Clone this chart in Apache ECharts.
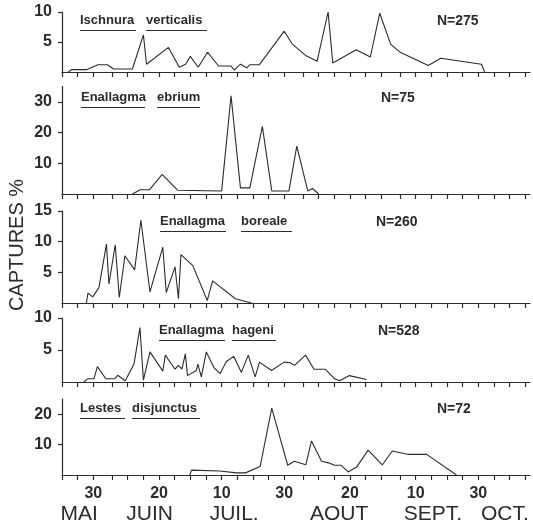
<!DOCTYPE html>
<html>
<head>
<meta charset="utf-8">
<script src="https://cdn.jsdelivr.net/npm/echarts@6/dist/echarts.min.js"></script>
<style>
    html, body { margin: 0; padding: 0; background: #fff; }
    #chart { width: 533px; height: 529px; }
</style>
</head>
<body>
<div id="chart"></div>
<script>
    // days are counted from 1 May (1 June = 32, 1 July = 62, 1 Aug = 93, 1 Sept = 124, 1 Oct = 154)
    const tickDays = [20, 25, 30, 36, 41, 46, 51, 56, 61, 66, 71, 76, 81, 86, 91, 97, 102, 107, 112, 117, 122,
        128, 133, 138, 143, 148, 153, 158, 163, 168]
    const dayLabelDays = [30, 51, 71, 91, 112, 133, 153]
    const dayLabels = ['30', '20', '10', '30', '20', '10', '30']
    const monthDays = [25.5, 48, 75, 108.5, 138.5, 161.5]
    const months = ['MAI', 'JUIN', 'JUIL.', 'AOUT', 'SEPT.', 'OCT.']

    const ischnuraDays = [22, 23, 28, 31.5, 34.5, 36.5, 42.5, 46, 47, 54, 57.5, 59.5, 61, 63.5, 66.5, 70, 74, 75, 77, 79, 80, 83,
        91, 93.5, 98, 101.5, 105, 106.5, 114, 118.5, 121.5, 125, 128, 137, 141, 154, 155]
    const ischnuraPct = [0, 0.4, 0.4, 1.2, 1.2, 0.5, 0.5, 6.2, 1.3, 4.1, 0.8, 1.3, 2.6, 0.8, 3.3, 1.0, 1.0, 0.3, 1.3, 0.7, 1.2, 1.2,
        6.8, 4.7, 2.7, 1.8, 10, 1.5, 3.7, 2.5, 9.8, 4.6, 3.3, 1.1, 2.3, 1.3, 0]

    const ebriumDays = [42.5, 45, 48, 52, 57, 71, 74, 77, 80, 84, 87, 92.5, 95, 98.5, 100, 102]
    const ebriumPct = [0, 1.4, 1.4, 6.4, 1.2, 1.0, 32, 2, 2, 22, 1, 1, 15.6, 1, 1.8, 0]

    const borealeDays = [27.8, 28.3, 29.8, 31.8, 34.2, 35, 37, 38.3, 40.1, 43.2, 45.2, 48.1, 52.2, 53.3, 56.1, 57.2, 58,
        61.8, 66.4, 68.1, 75.4, 80.5]
    const borealePct = [0, 1.6, 1.0, 2.5, 9.6, 3.1, 9.5, 0.9, 7.7, 5.4, 13.5, 1.8, 9.1, 1.7, 5.9, 0.7, 7.9,
        6.1, 0.4, 3.6, 0.7, 0]

    const hageniDays = [27, 28.2, 30.2, 31.3, 34, 36.7, 37.8, 40.2, 43, 44.9, 46, 48.1, 52.2, 53, 56.1, 57.2, 58.3, 59.4,
        60.1, 62.9, 63.4, 64.5, 66.1, 68.6, 70.5, 72.5, 74.9, 77.3, 79.5, 81.7, 83.1, 86.9, 91, 92.9, 94.3, 97.8, 100.5,
        104.1, 107.1, 108.7, 111.8, 117.3]
    const hageniPct = [0, 0.5, 0.5, 2.4, 0.5, 0.5, 1.05, 0.2, 2.8, 8.5, 0.3, 4.7, 1.7, 4.2, 2, 2.6, 2, 4.4,
        1, 1.8, 2.8, 0.8, 4.7, 2.2, 1.3, 3.2, 4, 1.5, 4.2, 0.8, 3.1, 1.8, 3.1, 3, 2.6, 4.2, 2,
        2, 0.5, 0.2, 1, 0.4]

    const lestesDays = [60.8, 61.4, 70.4, 75.8, 78.6, 83.3, 87, 92.1, 94.2, 97.9, 99.7, 102.9, 105.2, 107, 109.2, 111.4,
        114.1, 117.8, 122.3, 125.5, 130.4, 136.5, 146]
    const lestesPct = [0, 1.6, 1.3, 0.7, 0.7, 2.8, 22, 3.2, 4.5, 3.4, 11.2, 4.5, 4, 3.2, 3.2, 1,
        2.6, 8.2, 3.3, 7.9, 6.8, 6.8, 0]

    const panels = [
        { days: ischnuraDays, pct: ischnuraPct, max: 10, ticks: [5, 10], top: 12, height: 60,
            words: [['Ischnura', 80, 136], ['verticalis', 146, 207]], n: 'N=275', nx: 437, ty: 22 },
        { days: ebriumDays, pct: ebriumPct, max: 35, ticks: [10, 20, 30], top: 86.5, height: 107.5,
            words: [['Enallagma', 81, 145], ['ebrium', 157, 200]], n: 'N=75', nx: 381, ty: 99 },
        { days: borealeDays, pct: borealePct, max: 15, ticks: [5, 10, 15], top: 211, height: 92,
            words: [['Enallagma', 160, 226], ['boreale', 241, 292]], n: 'N=260', nx: 376, ty: 223 },
        { days: hageniDays, pct: hageniPct, max: 10, ticks: [5, 10], top: 318, height: 64,
            words: [['Enallagma', 159, 225], ['hageni', 232, 276]], n: 'N=528', nx: 378, ty: 332 },
        { days: lestesDays, pct: lestesPct, max: 25, ticks: [10, 20], top: 399, height: 76,
            words: [['Lestes', 80, 125], ['disjunctus', 132, 200]], n: 'N=72', nx: 437, ty: 410 }
    ]

    const ink = '#2b2b2b'
    const font = '"Liberation Sans", Arial, sans-serif'
    const xMin = 20
    const xMax = 169.5

    const grid = []
    const xAxis = []
    const yAxis = []
    const series = []
    const graphic = []

    panels.forEach((p, i) => {
        const last = i === panels.length - 1
        grid.push({ left: 62, right: 3, top: p.top, height: p.height })
        xAxis.push({
            type: 'value', gridIndex: i, position: 'bottom', min: xMin, max: xMax,
            axisLine: { show: true, lineStyle: { color: ink, width: 1.2 } },
            axisTick: { show: true, customValues: tickDays, length: 5, lineStyle: { color: ink, width: 1.2 } },
            axisLabel: {
                show: last, customValues: dayLabelDays, margin: 11,
                color: ink, fontSize: 16, fontWeight: 'bold', fontFamily: font,
                formatter: v => dayLabels[dayLabelDays.indexOf(v)]
            },
            splitLine: { show: false }
        })
        yAxis.push({
            type: 'value', gridIndex: i, min: 0, max: p.max,
            axisLine: { show: true, lineStyle: { color: ink, width: 1.2 } },
            axisTick: { show: true, customValues: p.ticks, length: 4, lineStyle: { color: ink, width: 1.2 } },
            axisLabel: {
                customValues: p.ticks, margin: 10,
                color: ink, fontSize: 16, fontWeight: 'bold', fontFamily: font
            },
            splitLine: { show: false }
        })
        series.push({
            type: 'line', xAxisIndex: i, yAxisIndex: i,
            data: p.days.map((d, k) => [d, p.pct[k]]),
            showSymbol: false, animation: false,
            lineStyle: { color: ink, width: 1.1 }
        })

        // species name, each word underlined, and sample size
        p.words.forEach(w => {
            graphic.push({
                type: 'text', left: w[1], top: p.ty - 8,
                style: { text: w[0], fill: ink, font: 'bold 13px ' + font }
            })
            graphic.push({
                type: 'line', shape: { x1: w[1], y1: p.ty + 8.5, x2: w[2], y2: p.ty + 8.5 },
                style: { stroke: ink, lineWidth: 1.2 }
            })
        })
        graphic.push({
            type: 'text', left: p.nx, top: p.ty - 8,
            style: { text: p.n, fill: ink, font: 'bold 14px ' + font }
        })
    })

    // month names under the day numbers
    xAxis.push({
        type: 'value', gridIndex: 4, position: 'bottom', min: xMin, max: xMax,
        axisLine: { show: false }, axisTick: { show: false }, splitLine: { show: false },
        axisLabel: {
            customValues: monthDays, margin: 29,
            color: ink, fontSize: 21, fontFamily: font,
            formatter: v => months[monthDays.indexOf(v)]
        }
    })

    graphic.push({
        type: 'text', x: 17, y: 245, rotation: Math.PI / 2,
        style: { text: 'CAPTURES %', fill: ink, font: '20px ' + font, align: 'center', verticalAlign: 'middle' }
    })

    const chart = echarts.init(document.getElementById('chart'), null, { renderer: 'canvas' })
    chart.setOption({
        backgroundColor: '#fff',
        animation: false,
        grid, xAxis, yAxis, series, graphic
    })
</script>
</body>
</html>
